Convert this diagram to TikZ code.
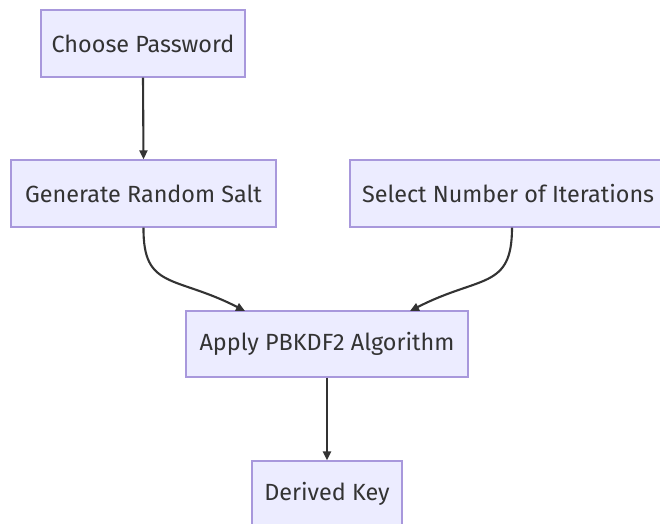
\documentclass[tikz,border=0pt]{standalone}
\usepackage{fontspec}
\setmainfont{Fira Sans}
\usetikzlibrary{arrows.meta}
\definecolor{boxfill}{HTML}{ECECFF}
\definecolor{boxline}{HTML}{A898DC}
\definecolor{ink}{HTML}{333333}
\tikzset{
  box/.style={draw=boxline, line width=1.3pt, fill=boxfill, text=ink, inner sep=0pt,
    minimum height=67pt, font=\fontsize{23.4}{28}\selectfont},
  link/.style={draw=ink, line width=2.1pt, -{Triangle[length=9pt,width=8pt]}}
}
\begin{document}
\begin{tikzpicture}[x=1pt,y=-1pt]
\useasboundingbox[fill=white] (0,0) rectangle (660,523);
\node[box, minimum width=204pt] (c) at (143,43.5) {Choose Password};
\node[box, minimum width=265pt] (g) at (143.5,193.5) {Generate Random Salt};
\node[box, minimum width=324pt] (s) at (512,193.5) {\makebox[300pt][l]{Select Number of Iterations}};
\node[box, minimum width=282pt, minimum height=66pt] (a) at (327,344) {Apply PBKDF2 Algorithm};
\node[box, minimum width=150pt, minimum height=66pt] (d) at (327,494) {Derived Key};
\coordinate (al) at (245,311);
\coordinate (ar) at (410,311);
\draw[link] (c.south) -- (g.north);
\draw[link] (g.south) .. controls (143,290) and (175,275) .. (al);
\draw[link] (s.south) .. controls (512,290) and (480,275) .. (ar);
\draw[link] (a.south) -- (d.north);
\end{tikzpicture}
\end{document}
